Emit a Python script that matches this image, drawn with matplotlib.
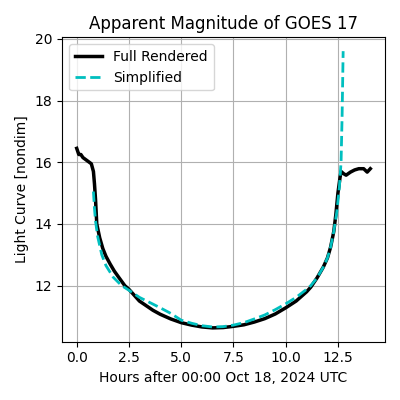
import numpy as np
import matplotlib
matplotlib.use("Agg")
from matplotlib import pyplot as plt

# full rendered light curve
hours_full = [0.0, 0.1, 0.2, 0.3, 0.5, 0.7, 0.8, 0.85, 0.9, 0.96, 1.1, 1.25, 1.4, 1.6, 1.8,
              2.0, 2.3, 2.5, 3.0, 3.65, 4.0, 4.5, 5.0, 5.5, 6.0, 6.5, 7.0, 7.5, 8.0, 8.5,
              9.0, 9.5, 10.0, 10.5, 11.0, 11.2, 11.5, 11.8, 12.0, 12.15, 12.3, 12.4, 12.5,
              12.6, 12.65, 12.77, 12.89, 13.1, 13.3, 13.5, 13.73, 13.9, 14.05]
mag_full = [16.45, 16.25, 16.25, 16.15, 16.05, 15.95, 15.7, 15.3, 14.8, 14.0, 13.55, 13.2,
            12.95, 12.7, 12.47, 12.28, 12.0, 11.88, 11.5, 11.2, 11.07, 10.92, 10.8, 10.72,
            10.66, 10.63, 10.64, 10.68, 10.73, 10.82, 10.93, 11.08, 11.28, 11.5, 11.8, 11.95,
            12.25, 12.6, 12.9, 13.25, 13.75, 14.3, 15.0, 15.5, 15.7, 15.63, 15.58, 15.68,
            15.75, 15.79, 15.79, 15.68, 15.79]

# simplified model
hours_simp = [0.8, 0.85, 0.9, 1.0, 1.2, 1.4, 1.75, 2.15, 2.5, 3.0, 3.65, 4.0, 4.5, 5.0,
              5.5, 6.0, 6.5, 7.0, 7.5, 8.0, 8.5, 9.0, 9.5, 10.0, 10.5, 11.0, 11.2, 11.5,
              11.8, 12.0, 12.15, 12.3, 12.45, 12.57, 12.65, 12.7, 12.75]
mag_simp = [15.05, 14.5, 14.1, 13.6, 13.0, 12.65, 12.27, 12.0, 11.85, 11.62, 11.4, 11.28,
            11.1, 10.88, 10.78, 10.7, 10.66, 10.67, 10.72, 10.8, 10.92, 11.05, 11.22, 11.41,
            11.62, 11.88, 12.0, 12.25, 12.6, 12.9, 13.25, 13.75, 14.4, 15.2, 16.0, 17.5, 19.6]

fig = plt.figure(figsize=(4, 4), dpi=100)
plt.plot(hours_full, mag_full, "k-", linewidth=2.5, label="Full Rendered")
plt.plot(hours_simp, mag_simp, "c--", linewidth=2, label="Simplified")
plt.title("Apparent Magnitude of GOES 17")
plt.xlabel("Hours after 00:00 Oct 18, 2024 UTC")
plt.ylabel("Light Curve [nondim]")
plt.grid()
plt.legend(loc="upper left")
fig.tight_layout()
plt.savefig("out.png")
